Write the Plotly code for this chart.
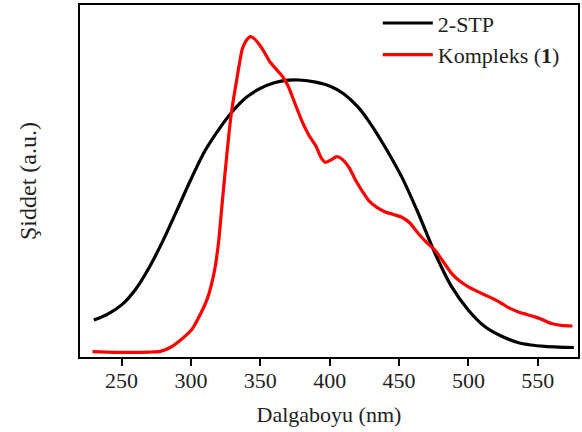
import plotly.graph_objects as go

# 2-STP (black)
stp_x = [230, 240, 250, 260, 270, 280, 290, 300, 310, 320, 330, 340, 350, 360, 368, 378,
         390, 400, 410, 420, 428, 440, 452, 464, 476, 488, 500, 512, 524, 535, 545, 555,
         565, 576]
stp_y = [0.105, 0.122, 0.148, 0.192, 0.255, 0.332, 0.418, 0.505, 0.585, 0.646, 0.698, 0.738,
         0.763, 0.779, 0.786, 0.787, 0.781, 0.77, 0.748, 0.712, 0.671, 0.596, 0.511, 0.407,
         0.294, 0.199, 0.133, 0.086, 0.059, 0.042, 0.034, 0.030, 0.028, 0.027]

# Kompleks (1) (red)
kom_x = [229, 240, 255, 270, 278, 285, 293, 300, 305, 312, 317, 320, 322, 324,
         326.5, 329, 333.5, 337, 340, 343, 346, 349, 353, 357, 362, 366, 370, 375, 380,
         385, 390, 394, 397, 401, 405, 409, 414, 419, 424, 428, 434, 440, 446, 452, 458,
         464, 470, 476, 482, 488, 494, 500, 506, 512, 518, 524, 530, 536, 542, 548, 554,
         560, 567, 575]
kom_y = [0.015, 0.014, 0.013, 0.014, 0.016, 0.027, 0.05, 0.075, 0.108, 0.168, 0.246, 0.33,
         0.416, 0.50, 0.60, 0.69, 0.80, 0.875, 0.90, 0.91, 0.903, 0.889, 0.865,
         0.838, 0.815, 0.797, 0.77, 0.72, 0.67, 0.63, 0.60, 0.565, 0.553, 0.56, 0.569,
         0.562, 0.538, 0.50, 0.468, 0.445, 0.425, 0.412, 0.405, 0.397, 0.38,
         0.35, 0.325, 0.303, 0.27, 0.237, 0.215, 0.199, 0.187, 0.176, 0.165, 0.152, 0.138,
         0.128, 0.121, 0.114, 0.105, 0.095, 0.09, 0.088]

x_ticks = [250, 300, 350, 400, 450, 500, 550]

FONT = "Liberation Serif"
FS = 22

fig = go.Figure()
fig.add_trace(go.Scatter(x=stp_x, y=stp_y, mode="lines", name="2-STP",
                         line=dict(color="#000000", width=3.2, shape="spline", smoothing=0.8)))
fig.add_trace(go.Scatter(x=kom_x, y=kom_y, mode="lines", name="Kompleks (<b>1</b>)",
                         line=dict(color="#FF0000", width=3.2, shape="spline", smoothing=0.6)))

fig.update_layout(
    width=582, height=432,
    margin=dict(l=80, r=2, t=4, b=75),
    paper_bgcolor="white", plot_bgcolor="white",
    font=dict(family=FONT, size=FS, color="#222222"),
    showlegend=True,
    legend=dict(x=0.598, y=1.008, xanchor="left", yanchor="top",
                bgcolor="rgba(0,0,0,0)", borderwidth=0,
                font=dict(family=FONT, size=FS, color="#222222"),
                itemwidth=50, tracegroupgap=0),
    xaxis=dict(range=[220, 579], tickvals=x_ticks, ticks="outside", ticklen=7,
               tickwidth=2, tickcolor="#000000", showgrid=False, zeroline=False,
               showline=True, linecolor="#000000", linewidth=2, mirror=True,
               ticklabelstandoff=-4,
               title=dict(text="Dalgaboyu (nm)", font=dict(family=FONT, size=FS), standoff=14),
               tickfont=dict(family=FONT, size=FS)),
    yaxis=dict(range=[0, 1], showticklabels=False, ticks="", showgrid=False,
               zeroline=False, showline=True, linecolor="#000000", linewidth=2, mirror=True,
               title=dict(text="Şiddet (a.u.)", font=dict(family=FONT, size=24), standoff=35)),
)

fig.write_html("out.html", config={"displayModeBar": False},
               post_script="document.body.style.margin='0';document.body.style.padding='0';")
